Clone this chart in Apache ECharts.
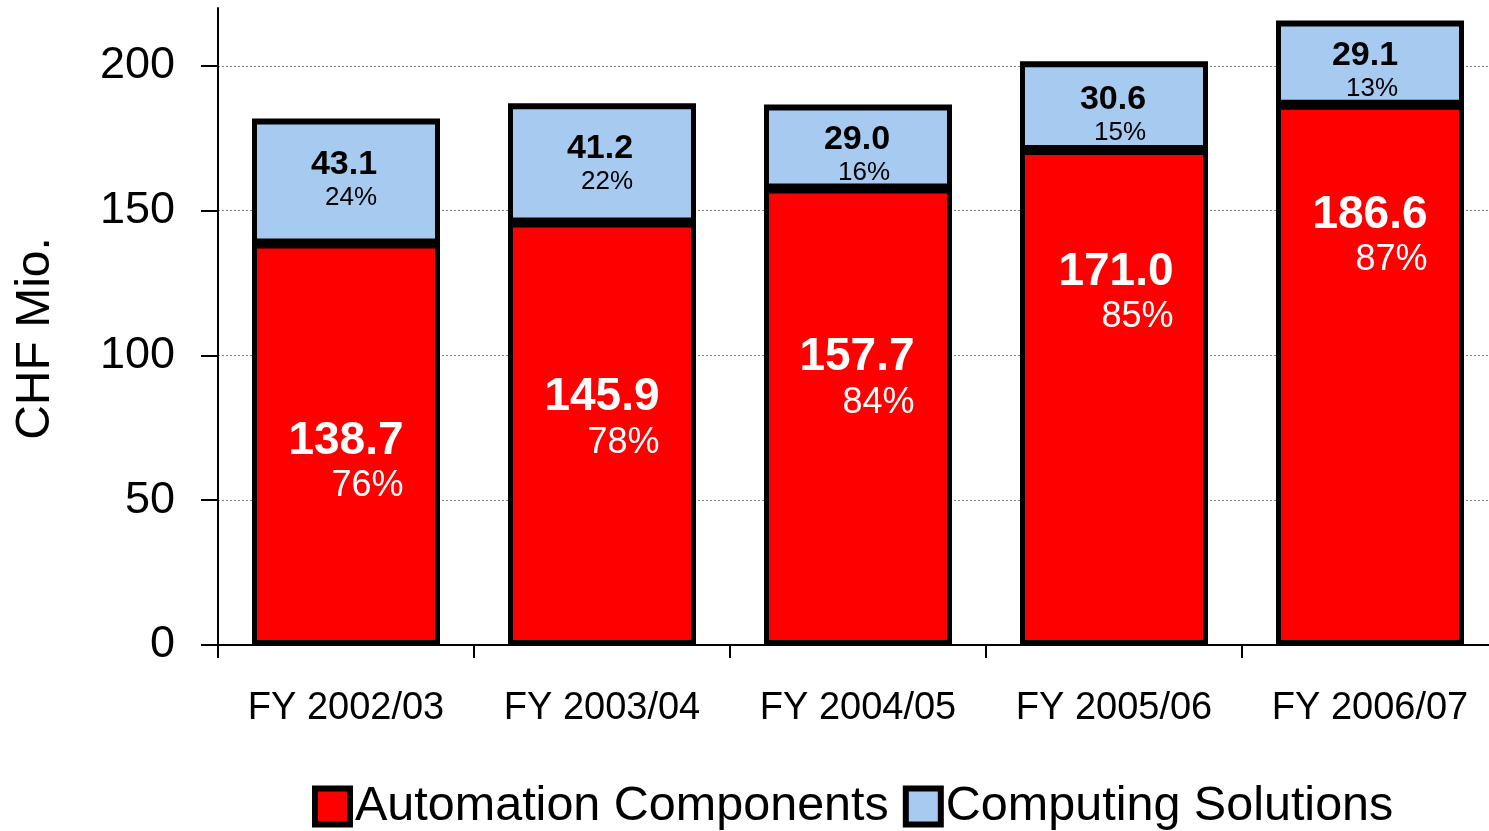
<!DOCTYPE html>
<html>
<head>
<meta charset="utf-8">
<script src="https://cdn.jsdelivr.net/npm/echarts@6/dist/echarts.min.js"></script>
<style>
  html, body { margin: 0; padding: 0; background: #fff; }
  #chart { width: 1489px; height: 831px; }
</style>
</head>
<body>
<div id="chart"></div>
<script>
const years = ["FY 2002/03", "FY 2003/04", "FY 2004/05", "FY 2005/06", "FY 2006/07"];
const automation = [138.7, 145.9, 157.7, 171.0, 186.6];
const computing = [43.1, 41.2, 29.0, 30.6, 29.1];
const automationShare = ["76%", "78%", "84%", "85%", "87%"];
const computingShare = ["24%", "22%", "16%", "15%", "13%"];
const yTicks = [0, 50, 100, 150, 200];

// label nudges (px) to match the hand-placed labels of the original
const redShift = [[0, 18], [0, -15], [-1, -38], [2, -104], [0, -139]];
const blueShift = [[-2, -1], [-2, 1], [-1, 8], [-1, 9], [-5, 8]];

const FONT = "Liberation Sans";

const chart = echarts.init(document.getElementById("chart"));

function barData(values, shares, shift) {
  return values.map((v, i) => ({
    value: v,
    share: shares[i],
    label: { offset: shift[i] }
  }));
}

const option = {
  animation: false,
  textStyle: { fontFamily: FONT, color: "#000" },
  grid: { left: 218, right: -9, top: 8, bottom: 186, outerBoundsMode: "none" },
  legend: {
    left: 312,
    top: 782,
    padding: 0,
    icon: "rect",
    itemWidth: 35,
    itemHeight: 36,
    itemGap: 14,
    itemStyle: { borderColor: "#000", borderWidth: 6, shadowOffsetY: 0, shadowColor: "transparent" },
    textStyle: { fontFamily: FONT, fontSize: 48.5, color: "#000" },
    data: ["Automation Components", "Computing Solutions"]
  },
  xAxis: {
    type: "category",
    data: years,
    axisLine: { lineStyle: { color: "#000", width: 2 } },
    axisTick: { show: true, length: 13, lineStyle: { color: "#000", width: 2 } },
    axisLabel: { fontFamily: FONT, fontSize: 38, color: "#000", margin: 45 }
  },
  yAxis: {
    type: "value",
    min: 0,
    max: 220,
    interval: 50,
    name: "CHF Mio.",
    nameLocation: "middle",
    nameGap: 158,
    nameTextStyle: { fontFamily: FONT, fontSize: 48, color: "#000", padding: [0, 24, 0, 0] },
    axisLine: { show: true, lineStyle: { color: "#000", width: 2 } },
    axisTick: { show: true, length: 17, customValues: yTicks, lineStyle: { color: "#000", width: 2 } },
    axisLabel: { fontFamily: FONT, fontSize: 45, color: "#000", margin: 43, customValues: yTicks },
    splitLine: { show: true, lineStyle: { color: "#808080", width: 1, type: [2, 2] } }
  },
  series: [
    {
      name: "Automation Components",
      type: "bar",
      stack: "total",
      barWidth: 188,
      itemStyle: { color: "#ff0000", borderColor: "#000", borderWidth: 5 },
      label: {
        show: true,
        position: "inside",
        formatter: (p) => "{v|" + p.value.toFixed(1) + "}\n{p|" + p.data.share + "}",
        rich: {
          v: { fontFamily: FONT, fontSize: 46, fontWeight: "bold", color: "#fff", lineHeight: 48, align: "right" },
          p: { fontFamily: FONT, fontSize: 36, color: "#fff", lineHeight: 42, align: "right" }
        }
      },
      data: barData(automation, automationShare, redShift)
    },
    {
      name: "Computing Solutions",
      type: "bar",
      stack: "total",
      barWidth: 188,
      // 1px black drop shadow hides the anti-aliasing seam between the stacked segments
      itemStyle: {
        color: "#a6caf0", borderColor: "#000", borderWidth: 5,
        shadowColor: "#000", shadowBlur: 0, shadowOffsetY: 1
      },
      label: {
        show: true,
        position: "inside",
        formatter: (p) => "{v|" + p.value.toFixed(1) + "}\n{p|" + p.data.share + "}",
        rich: {
          v: { fontFamily: FONT, fontSize: 34, fontWeight: "bold", color: "#000", lineHeight: 36, align: "right" },
          p: { fontFamily: FONT, fontSize: 26, color: "#000", lineHeight: 30, align: "right" }
        }
      },
      data: barData(computing, computingShare, blueShift)
    }
  ]
};

chart.setOption(option);
</script>
</body>
</html>
